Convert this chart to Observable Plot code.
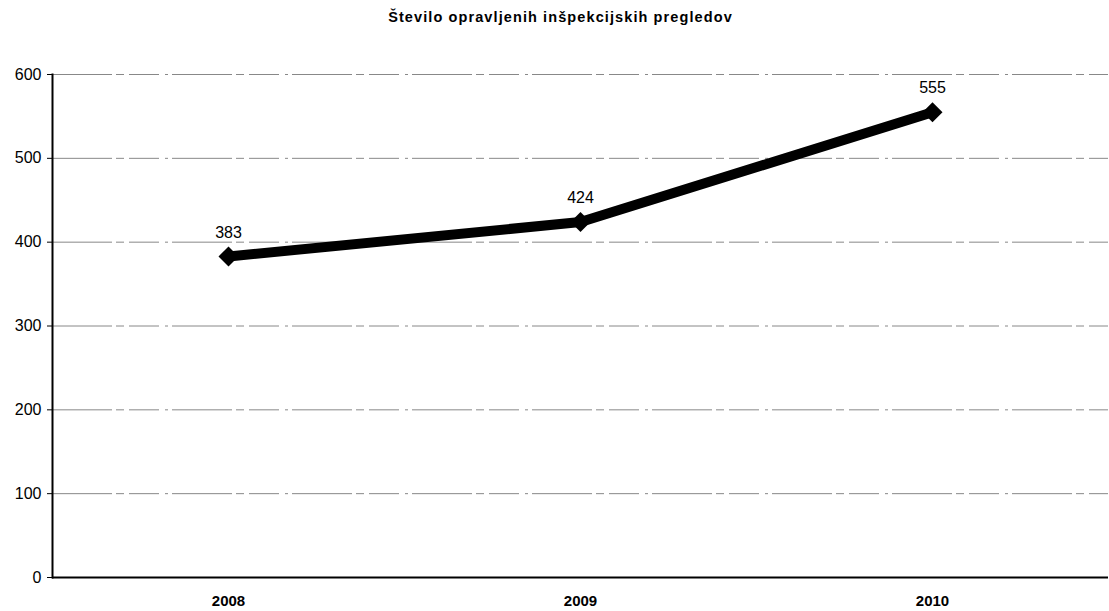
<!DOCTYPE html>
<html>
<head>
<meta charset="utf-8">
<script src="https://cdn.jsdelivr.net/npm/d3@7"></script>
<script src="https://cdn.jsdelivr.net/npm/@observablehq/plot@0.6"></script>
<style>
  html, body { margin: 0; padding: 0; background: #fff; }
  body { width: 1109px; height: 611px; overflow: hidden; font-family: "Liberation Sans", Arial, sans-serif; }
  #title { height: 30px; line-height: 34px; text-align: center; font-weight: bold; font-size: 14.5px; letter-spacing: 1.1px; color: #000; padding-left: 12px; box-sizing: border-box; }
</style>
</head>
<body>
<div id="title">Število opravljenih inšpekcijskih pregledov</div>
<div id="chart"></div>
<script>
const years = ["2008", "2009", "2010"];
const values = [383, 424, 555];
const yTicks = [0, 100, 200, 300, 400, 500, 600];

const data = years.map((y, i) => ({year: y, value: values[i]}));

const chart = Plot.plot({
  width: 1109,
  height: 581,
  marginLeft: 52,
  marginRight: 1,
  marginTop: 44,
  marginBottom: 34,
  style: {fontFamily: "'Liberation Sans', Arial, sans-serif", background: "#fff", color: "#000"},
  x: {type: "band", domain: years, padding: 0},
  y: {domain: [0, 600]},
  marks: [
    Plot.ruleY(yTicks.filter(d => d > 0), {stroke: "#888", strokeWidth: 1, strokeDasharray: "60,4,8,5,30,6,3,4"}),
    Plot.frame({anchor: "left", stroke: "#000", strokeWidth: 2}),
    Plot.ruleY([0], {stroke: "#000", strokeWidth: 2}),
    Plot.axisY({ticks: yTicks, tickSize: 5, tickPadding: 6, fontSize: 16, label: null, tickFormat: d => String(d)}),
    Plot.axisX({tickSize: 0, tickPadding: 18, fontSize: 15, fontWeight: "bold", label: null, style: {letterSpacing: "1.5px"}}),
    Plot.line(data, {x: "year", y: "value", stroke: "#000", strokeWidth: 10, strokeLinejoin: "round"}),
    Plot.dot(data, {x: "year", y: "value", symbol: "diamond2", r: 9, fill: "#000", stroke: "none"}),
    Plot.text(data, {x: "year", y: "value", text: d => String(d.value), dy: -24, fontSize: 16, fill: "#000"})
  ]
});
document.getElementById("chart").appendChild(chart);
</script>
</body>
</html>
